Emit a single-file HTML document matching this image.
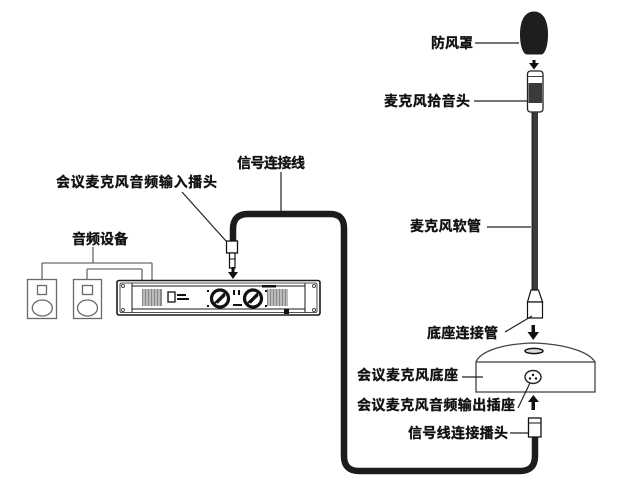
<!DOCTYPE html>
<html><head><meta charset="utf-8"><style>
html,body{margin:0;padding:0;background:#fff;}
svg{display:block;}
text{font-family:"Liberation Sans","Noto Sans CJK SC","WenQuanYi Zen Hei",sans-serif;font-weight:bold;font-size:14px;fill:#111;stroke:#111;stroke-width:0.35px;}
</style></head><body>
<svg width="627" height="488" viewBox="0 0 627 488" xmlns="http://www.w3.org/2000/svg">
<rect width="627" height="488" fill="#fff"/>

<!-- signal cable -->
<path d="M233 241 L233 229 Q233 214 248 214 L330 214 Q344 214 344 228 L344 456 Q344 471 359 471 L520 471 Q535 471 535 456 L535 437" fill="none" stroke="#1c1c1c" stroke-width="6.5"/>

<!-- speakers / bracket lines -->
<g stroke="#6a6a6a" stroke-width="1.3" fill="none">
<line x1="93" y1="247" x2="93" y2="263"/>
<line x1="42" y1="263" x2="152" y2="263"/>
<line x1="42" y1="263" x2="42" y2="280"/>
<line x1="152" y1="263" x2="152" y2="280"/>
<line x1="87" y1="269" x2="142" y2="269"/>
<line x1="87" y1="269" x2="87" y2="280"/>
<line x1="142" y1="269" x2="142" y2="280"/>
<rect x="27.5" y="279.5" width="29" height="39" fill="#fff"/>
<rect x="37.5" y="285.5" width="9" height="9"/>
<ellipse cx="42.3" cy="308" rx="10" ry="8"/>
<rect x="73.5" y="279.5" width="28" height="39" fill="#fff"/>
<rect x="82.5" y="285.5" width="10" height="9"/>
<ellipse cx="87.5" cy="308" rx="10" ry="8"/>
</g>

<!-- amplifier -->
<g stroke="#1a1a1a" fill="none">
<rect x="117" y="280.5" width="203" height="34.5" rx="2" stroke-width="1.6"/>
<rect x="120" y="283" width="197" height="29.5" rx="1.5" stroke-width="0.8"/>
<line x1="132" y1="283" x2="132" y2="312.5" stroke-width="1"/>
<line x1="305" y1="283" x2="305" y2="312.5" stroke-width="1"/>
<line x1="132" y1="286" x2="305" y2="286" stroke-width="1"/>
<line x1="132" y1="309" x2="305" y2="309" stroke-width="1"/>
<circle cx="123" cy="286" r="1.5" stroke-width="0.8"/>
<circle cx="123" cy="310" r="1.5" stroke-width="0.8"/>
<circle cx="314" cy="286" r="1.5" stroke-width="0.8"/>
<circle cx="314" cy="310" r="1.5" stroke-width="0.8"/>
</g>
<g fill="#888">
<rect x="142" y="289" width="20" height="17"/>
<rect x="267" y="289" width="21" height="17"/>
</g>
<g stroke="#eee" stroke-width="1">
<line x1="144" y1="289" x2="144" y2="306"/><line x1="147" y1="289" x2="147" y2="306"/><line x1="150" y1="289" x2="150" y2="306"/><line x1="153" y1="289" x2="153" y2="306"/><line x1="156" y1="289" x2="156" y2="306"/><line x1="159" y1="289" x2="159" y2="306"/>
<line x1="269" y1="289" x2="269" y2="306"/><line x1="272" y1="289" x2="272" y2="306"/><line x1="275" y1="289" x2="275" y2="306"/><line x1="278" y1="289" x2="278" y2="306"/><line x1="281" y1="289" x2="281" y2="306"/><line x1="284" y1="289" x2="284" y2="306"/><line x1="287" y1="289" x2="287" y2="306"/>
</g>
<rect x="168" y="292" width="7" height="10" fill="none" stroke="#111" stroke-width="1.3"/>
<rect x="177" y="294" width="9" height="2" fill="#111"/>
<rect x="177" y="298" width="12" height="2" fill="#111"/>
<rect x="262" y="285" width="14" height="2.5" fill="#111"/>
<rect x="284" y="309" width="5" height="5" fill="#111"/>
<rect x="233" y="304" width="9" height="2" fill="#111"/>
<g stroke="#111" stroke-width="3.2" fill="#fff">
<circle cx="220" cy="298.5" r="8.5"/>
<circle cx="253" cy="298.5" r="8.5"/>
</g>
<g stroke="#111" stroke-width="2">
<line x1="214" y1="304" x2="226" y2="292"/>
<line x1="217" y1="303" x2="225" y2="295"/>
<line x1="247" y1="304" x2="259" y2="292"/>
<line x1="250" y1="303" x2="258" y2="295"/>
</g>
<g fill="#111">
<rect x="207" y="290" width="2" height="2"/><rect x="207" y="305" width="2" height="2"/>
<rect x="265" y="290" width="2" height="2"/><rect x="265" y="305" width="2" height="2"/>
<rect x="233" y="290" width="2" height="5"/><rect x="238" y="290" width="2" height="5"/>
</g>

<!-- plug into amplifier -->
<rect x="226.5" y="241" width="11" height="12" fill="#fff" stroke="#111" stroke-width="1.3"/>
<rect x="229.5" y="253" width="5.5" height="15" fill="#fff" stroke="#111" stroke-width="1.2"/>
<line x1="229.5" y1="259" x2="235" y2="259" stroke="#111" stroke-width="1"/>
<rect x="231.5" y="267" width="3" height="6" fill="#111"/>
<polygon points="228,272 238,272 233,279" fill="#111"/>

<!-- windscreen -->
<path d="M534 11.5 C545 11.5 548 24 548 34 C548 46 545 54.5 541 54.5 L527 54.5 C523 54.5 520 46 520 34 C520 24 523 11.5 534 11.5 Z" fill="#1e1e1e"/>
<rect x="532.5" y="60" width="3" height="4" fill="#111"/>
<polygon points="529,63 539,63 534,69.5" fill="#111"/>

<!-- mic head -->
<rect x="527.5" y="71" width="15.5" height="41" rx="3" fill="#fff" stroke="#222" stroke-width="1.3"/>
<rect x="528.5" y="83" width="13.5" height="20" fill="#3a3a3a"/>
<line x1="528" y1="76.5" x2="542.5" y2="76.5" stroke="#444" stroke-width="1"/>

<!-- gooseneck -->
<rect x="531.5" y="112" width="6.5" height="178" fill="#3a3a3a"/>
<line x1="532.3" y1="112" x2="532.3" y2="290" stroke="#222" stroke-width="0.8"/>

<!-- base connector tube -->
<polygon points="531,290 538.5,290 542.5,302 527.5,302" fill="#fff" stroke="#111" stroke-width="1.2"/>
<rect x="527.5" y="302" width="15" height="16" fill="#fff" stroke="#111" stroke-width="1.2"/>
<rect x="531.5" y="325" width="3.5" height="8" fill="#111"/>
<polygon points="527.5,332 539,332 533.3,340" fill="#111"/>

<!-- base -->
<path d="M476 362 C480 352 500 344 533 343 C566 344 589 352 595 362" fill="#fff" stroke="#444" stroke-width="1.3"/>
<rect x="476" y="362" width="119" height="30" fill="#fff" stroke="#444" stroke-width="1.3"/>
<ellipse cx="534" cy="351" rx="9" ry="2.6" fill="#ddd" stroke="#111" stroke-width="1.5"/>
<ellipse cx="533" cy="377" rx="8" ry="6.5" fill="#fff" stroke="#222" stroke-width="1.4"/>
<g fill="#111"><circle cx="530" cy="378.5" r="1.2"/><circle cx="536" cy="378.5" r="1.2"/><circle cx="533" cy="375" r="1.2"/></g>
<polygon points="533.3,395 528,402 539,402" fill="#111"/>
<rect x="531.5" y="401" width="3.5" height="9" fill="#111"/>

<!-- plug near base -->
<rect x="528.5" y="418" width="12.5" height="19" fill="#fff" stroke="#111" stroke-width="1.3"/>
<line x1="528.5" y1="423" x2="541" y2="423" stroke="#111" stroke-width="1"/>

<!-- leader lines -->
<g stroke="#222" stroke-width="1.2" fill="none">
<line x1="281" y1="172" x2="281" y2="211"/>
<line x1="182" y1="192" x2="226" y2="241"/>
<line x1="475" y1="43" x2="519" y2="43"/>
<line x1="474" y1="101" x2="527" y2="101"/>
<line x1="487" y1="227" x2="531" y2="227"/>
<line x1="505" y1="332" x2="532" y2="316"/>
<line x1="462" y1="377" x2="483" y2="377"/>
<line x1="518" y1="408" x2="530" y2="383"/>
<line x1="510" y1="433" x2="528" y2="433"/>
</g>

<!-- labels -->
<text x="237" y="168" textLength="68" lengthAdjust="spacing">信号连接线</text>
<text x="56" y="187" textLength="161" lengthAdjust="spacing">会议麦克风音频输入播头</text>
<text x="72" y="244" textLength="56" lengthAdjust="spacing">音频设备</text>
<text x="431" y="48" textLength="42" lengthAdjust="spacing">防风罩</text>
<text x="384" y="106" textLength="86" lengthAdjust="spacing">麦克风拾音头</text>
<text x="410" y="231" textLength="71" lengthAdjust="spacing">麦克风软管</text>
<text x="427" y="338" textLength="71" lengthAdjust="spacing">底座连接管</text>
<text x="357" y="380" textLength="101" lengthAdjust="spacing">会议麦克风底座</text>
<text x="357" y="410" textLength="158" lengthAdjust="spacing">会议麦克风音频输出插座</text>
<text x="408" y="438" textLength="100" lengthAdjust="spacing">信号线连接播头</text>
</svg>
</body></html>
